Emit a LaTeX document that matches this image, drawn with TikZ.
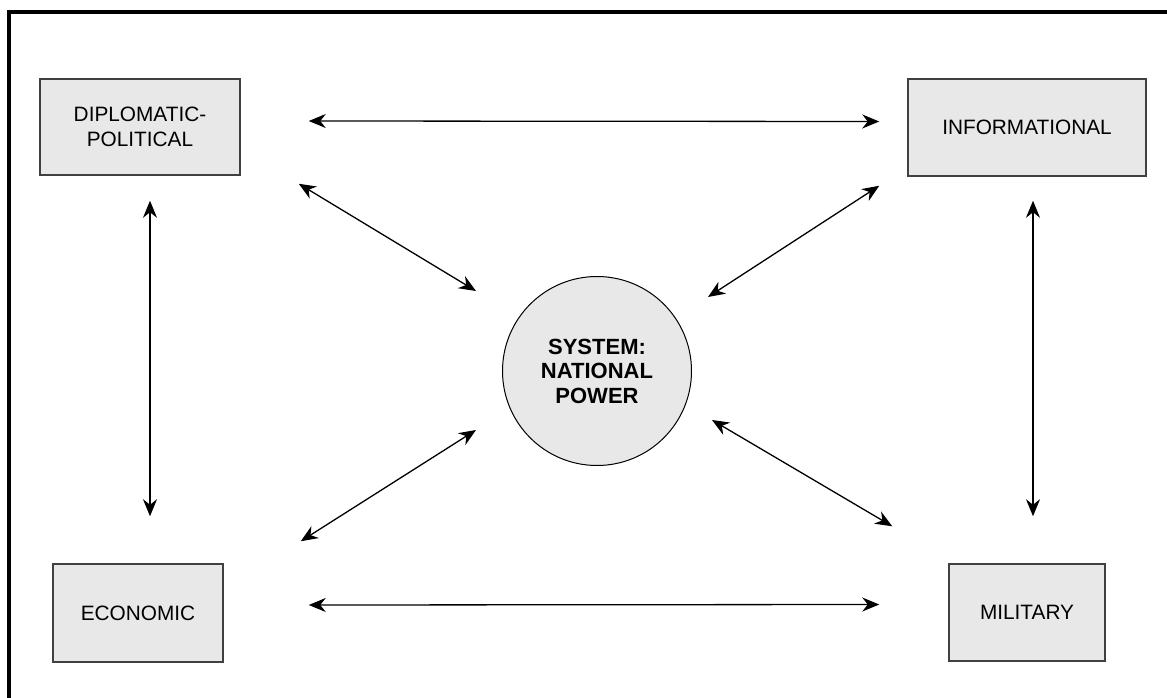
\documentclass[tikz,border=0pt]{standalone}
\usepackage{fontspec}
\setmainfont{Liberation Sans}
\usetikzlibrary{arrows.meta}
\definecolor{boxfill}{HTML}{E8E8E8}
\definecolor{boxline}{HTML}{404040}
\tikzset{
  domainbox/.style={draw=boxline, line width=1.5pt, fill=boxfill, inner sep=0pt,
    align=center, font=\fontsize{20.8}{25}\selectfont},
  corenode/.style={circle, draw=black, line width=1pt, fill=boxfill, inner sep=0pt,
    minimum size=189pt, align=center, font=\fontsize{22}{24.5}\selectfont\bfseries},
  link/.style={line width=1.3pt, {Stealth[length=17pt,width=14pt,inset=5.5pt]}-{Stealth[length=17pt,width=14pt,inset=5.5pt]}},
  frameline/.style={line width=4pt, line cap=rect}
}
\begin{document}
\begin{tikzpicture}[x=1pt,y=-1pt]
\useasboundingbox (0,0) rectangle (1167,698);
\fill[white] (0,0) rectangle (1167,698);
% frame (top and left)
\draw[frameline] (9,698) -- (9,12) -- (1167,12);

\node[domainbox, minimum width=200pt, minimum height=96pt] (dp) at (140,127) {DIPLOMATIC-\\POLITICAL};
\node[domainbox, minimum width=238pt, minimum height=97pt] (info) at (1027,127.5) {INFORMATIONAL};
\node[domainbox, minimum width=170pt, minimum height=98pt] (econ) at (138,613) {ECONOMIC};
\node[domainbox, minimum width=156pt, minimum height=97pt] (mil) at (1027,612.5) {MILITARY};
\node[corenode] (sys) at (597,371) {SYSTEM:\\NATIONAL\\POWER};

% horizontal links
\draw[link] ([xshift=68pt,yshift=6pt]dp.east) -- ([xshift=-28pt,yshift=6pt]info.west);
\draw[link] ([xshift=85pt,yshift=8pt]econ.east) -- ([xshift=-69pt,yshift=8pt]mil.west);
% vertical links
\draw[link] ([xshift=10pt,yshift=-25pt]dp.south) -- ([xshift=12pt,yshift=47pt]econ.north);
\draw[link] ([xshift=6pt,yshift=-24pt]info.south) -- ([xshift=6pt,yshift=47pt]mil.north);
% diagonal links
\draw[link] ([xshift=58pt,yshift=-8pt]dp.south east) -- ([xshift=-121pt,yshift=80pt]sys.center);
\draw[link] ([xshift=-28pt,yshift=-9pt]info.south west) -- ([xshift=111pt,yshift=74pt]sys.center);
\draw[link] ([xshift=77pt,yshift=22pt]econ.north east) -- ([xshift=-121pt,yshift=-59pt]sys.center);
\draw[link] ([xshift=-56pt,yshift=37pt]mil.north west) -- ([xshift=115pt,yshift=-49pt]sys.center);
\end{tikzpicture}
\end{document}
